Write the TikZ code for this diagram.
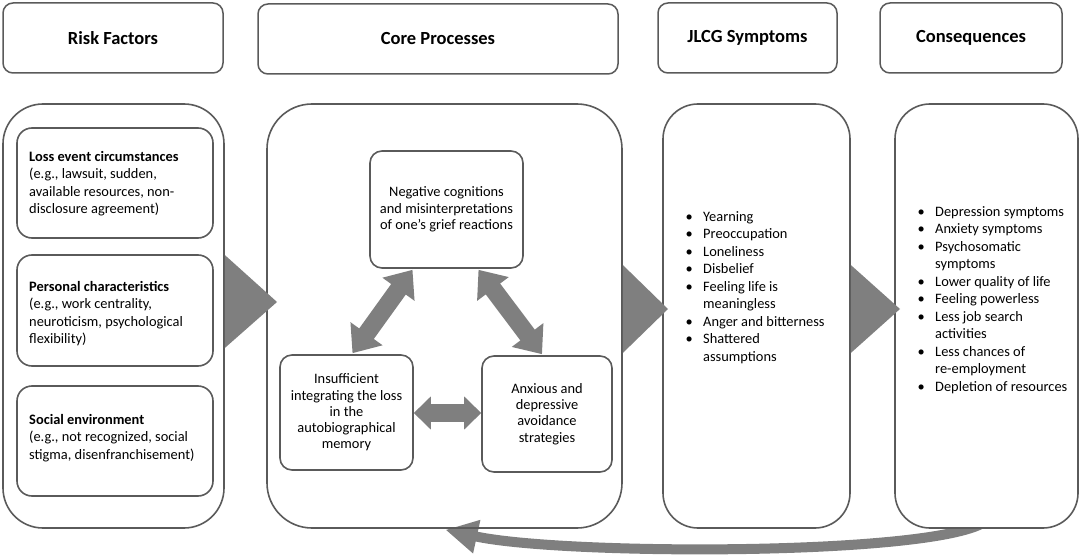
\documentclass[tikz,border=0pt]{standalone}
\usepackage{fontspec}
\setmainfont{Carlito}
\usetikzlibrary{arrows.meta,calc}
\definecolor{bord}{HTML}{5A5A5A}
\definecolor{arrg}{HTML}{7F7F7F}
\newcommand{\bt}{\makebox[17.5pt][l]{\textbullet}}
\begin{document}
\begin{tikzpicture}[x=1pt,y=-1pt,
  hdr/.style={draw=bord,line width=1.5pt,rounded corners=10pt,minimum height=70pt,inner sep=0pt,font=\fontsize{18.5}{21}\selectfont\bfseries},
  big/.style={draw=bord,line width=1.6pt,minimum height=424pt,inner sep=0pt},
  rbox/.style={draw=bord,line width=1.6pt,rounded corners=15pt,minimum width=196pt,inner sep=0pt},
  rtext/.style={anchor=west,align=left,inner sep=0pt,font=\fontsize{14.4}{17.5}\selectfont},
  cbox/.style={draw=bord,line width=1.6pt,rounded corners=12pt,inner sep=0pt,align=center,font=\fontsize{14.4}{16.3}\selectfont},
  list/.style={anchor=north west,inner sep=0pt,font=\fontsize{14.4}{17.5}\selectfont},
  dbl/.style={draw=arrg,line width=18pt,{Triangle[length=24pt,width=38pt]}-{Triangle[length=24pt,width=38pt]}},
  tri/.style={fill=arrg}
]
\useasboundingbox (0,0) rectangle (1084,559);

% feedback arrow (drawn first, start hidden under consequences box)
\node[big,rounded corners=35pt,minimum width=183pt,draw=none] (bcons0) at (986.5,316) {};
\node[big,rounded corners=45pt,minimum width=355pt,draw=none] (bcore0) at (444.5,316) {};
\draw[arrg,line width=10pt,-{Triangle[length=32pt,width=32pt]}]
  ($(bcons0.south)+(2,-10)$) .. controls (955,556) and (565,556) .. ($(bcore0.south)+(1,1)$);

% headers
\node[hdr,minimum width=220pt] (hrisk) at (113,38) {Risk Factors};
\node[hdr,minimum width=360pt] (hcore) at (438,39) {Core Processes};
\node[hdr,minimum width=179pt] (hjlcg) at (747.5,38) {JLCG Symptoms};
\node[hdr,minimum width=182pt] (hcons) at (971,38) {Consequences};

% big boxes
\node[big,rounded corners=40pt,minimum width=221pt] (brisk) at (113.5,316) {};
\node[big,rounded corners=45pt,minimum width=355pt] (bcore) at (444.5,316) {};
\node[big,rounded corners=35pt,minimum width=187pt] (bjlcg) at (756.5,316) {};
\node[big,rounded corners=35pt,minimum width=183pt,fill=white] (bcons) at (986.5,316) {};

% risk factor boxes
\node[rbox,minimum height=110pt] (r1) at (115,183) {};
\node[rbox,minimum height=111pt] (r2) at (115,310.5) {};
\node[rbox,minimum height=110pt] (r3) at (115,441) {};
\node[rtext] (r1t) at (29,183.5) {\textbf{Loss event circumstances}\\(e.g., lawsuit, sudden,\\available resources, non-\\disclosure agreement)};
\node[rtext] (r2t) at (29,313.5) {\textbf{Personal characteristics}\\(e.g., work centrality,\\neuroticism, psychological\\flexibility)};
\node[rtext] (r3t) at (29,438) {\textbf{Social environment}\\(e.g., not recognized, social\\stigma, disenfranchisement)};

% core process boxes
\node[cbox,minimum width=153pt,minimum height=117pt] (neg) at (446.5,209.5) {Negative cognitions\\and misinterpretations\\of one’s grief reactions};
\node[cbox,minimum width=133pt,minimum height=115pt] (ins) at (346.5,412.5) {Insufficient\\integrating the loss\\in the\\autobiographical\\memory};
\node[cbox,minimum width=130pt,minimum height=116pt] (anx) at (547,414) {Anxious and\\depressive\\avoidance\\strategies};

% double arrows
\draw[dbl] ($(neg.south)+(-34,1)$) -- ($(ins.north)+(6,-1)$);
\draw[dbl] ($(neg.south)+(32,1)$) -- ($(anx.north)+(-5,-1)$);
\draw[draw=arrg,line width=18pt,{Triangle[length=17pt,width=32pt]}-{Triangle[length=17pt,width=32pt]}] (ins.east |- 0,413) -- (anx.west |- 0,413);

% column arrows
\fill[tri] (brisk.east |- 0,255) -- (277,302) -- (brisk.east |- 0,348) -- cycle;
\fill[tri] (bcore.east |- 0,265) -- (668,309) -- (bcore.east |- 0,353) -- cycle;
\fill[tri] (bjlcg.east |- 0,265) -- (900,309) -- (bjlcg.east |- 0,353) -- cycle;

% lists
\node[list] (ljlcg) at (685.5,209) {\begin{tabular}{@{}l@{}l@{}}
\bt & Yearning\\
\bt & Preoccupation\\
\bt & Loneliness\\
\bt & Disbelief\\
\bt & Feeling life is\\
 & meaningless\\
\bt & Anger and bitterness\\
\bt & Shattered\\
 & assumptions
\end{tabular}};
\node[list] (lcons) at (917.5,204) {\begin{tabular}{@{}l@{}l@{}}
\bt & Depression symptoms\\
\bt & Anxiety symptoms\\
\bt & Psychosomatic\\
 & symptoms\\
\bt & Lower quality of life\\
\bt & Feeling powerless\\
\bt & Less job search\\
 & activities\\
\bt & Less chances of\\
 & re-employment\\
\bt & Depletion of resources
\end{tabular}};
\end{tikzpicture}
\end{document}
